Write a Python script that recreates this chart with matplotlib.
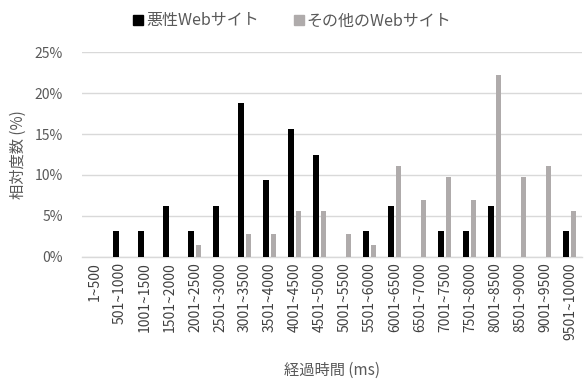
import matplotlib.pyplot as plt
from matplotlib.patches import Rectangle
from matplotlib.ticker import FuncFormatter
import numpy as np

plt.rcParams['font.family'] = ['Noto Sans CJK JP', 'DejaVu Sans']

# elapsed time bins (ms)
bins = ["1~500", "501~1000", "1001~1500", "1501~2000", "2001~2500",
        "2501~3000", "3001~3500", "3501~4000", "4001~4500", "4501~5000",
        "5001~5500", "5501~6000", "6001~6500", "6501~7000", "7001~7500",
        "7501~8000", "8001~8500", "8501~9000", "9001~9500", "9501~10000"]

# relative frequency (%)
malicious = [0, 3.1, 3.1, 6.2, 3.1, 6.2, 18.8, 9.4, 15.6, 12.5,
             0, 3.1, 6.2, 0, 3.1, 3.1, 6.2, 0, 0, 3.1]
others = [0, 0, 0, 0, 1.4, 0, 2.8, 2.8, 5.6, 5.6,
          2.8, 1.4, 11.1, 6.9, 9.7, 6.9, 22.2, 9.7, 11.1, 5.6]

labels = ["悪性Webサイト", "その他のWebサイト"]
c_black = "#000000"
c_gray = "#AFABAB"
txt = "#595959"

fig = plt.figure(figsize=(5.85, 3.85), dpi=100)
ax = fig.add_axes([0.141, 0.3333, 0.8547, 0.5307])

x = np.arange(len(bins))
w = 0.22
ax.bar(x - 0.15, malicious, w, color=c_black, zorder=3)
ax.bar(x + 0.15, others, w, color=c_gray, zorder=3)

ax.set_xlim(-0.5, len(bins) - 0.5)
ax.set_ylim(0, 25)
ax.set_yticks([0, 5, 10, 15, 20, 25])
ax.yaxis.set_major_formatter(FuncFormatter(lambda v, p: f"{v:.0f}%"))
ax.grid(axis="y", color="#D9D9D9", linewidth=1, zorder=0)

for s in ["top", "right", "left"]:
    ax.spines[s].set_visible(False)
ax.spines["bottom"].set_color("#D9D9D9")
ax.spines["bottom"].set_linewidth(1)

ax.set_xticks(x)
ax.set_xticklabels(bins, rotation=90, fontsize=10, color="#404040")
ax.tick_params(axis="x", length=0, pad=4)
ax.tick_params(axis="y", length=0, labelsize=10, labelcolor=txt, pad=14)

ax.set_xlabel("経過時間 (ms)", fontsize=11, color=txt, labelpad=16)
ax.set_ylabel("相対度数 (%)", fontsize=11, color=txt, labelpad=6)

handles = [Rectangle((0, 0), 1, 1, color=c_black), Rectangle((0, 0), 1, 1, color=c_gray)]
fig.legend(handles, labels, loc="upper center", bbox_to_anchor=(0.5, 1.005),
           ncol=2, frameon=False, fontsize=11.5, labelcolor=txt,
           handlelength=0.6, handleheight=0.6, handletextpad=0.2, columnspacing=2.2)

fig.savefig("out.png", dpi=100)
